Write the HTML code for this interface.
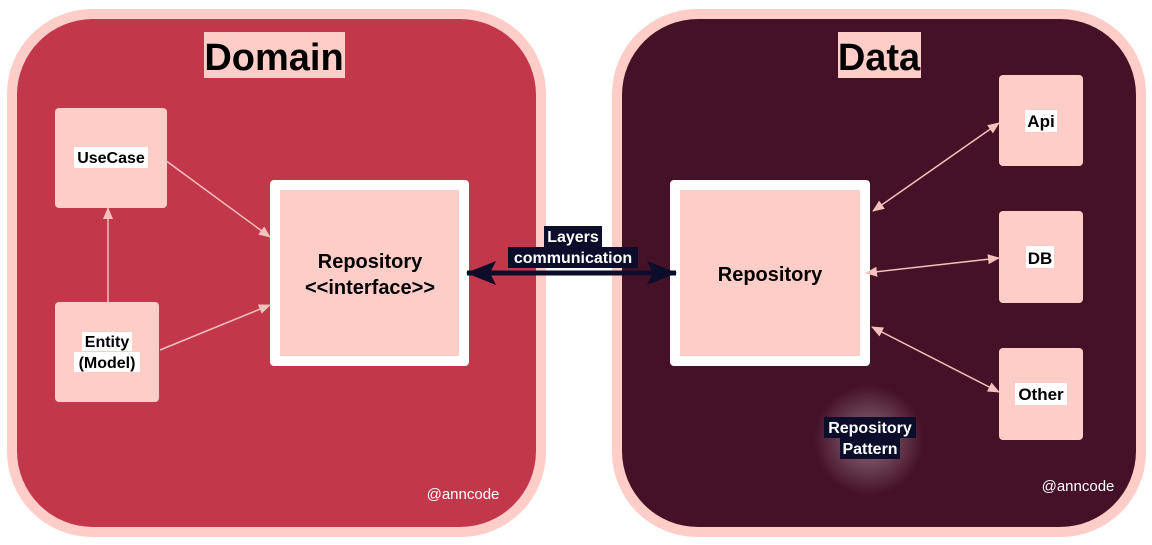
<!DOCTYPE html>
<html><head><meta charset="utf-8"><style>
html,body{margin:0;padding:0;background:#fff;width:1152px;height:545px;overflow:hidden}
text{font-family:"Liberation Sans",Arial,sans-serif;font-weight:bold}
</style></head><body>
<svg width="1152" height="545" viewBox="0 0 1152 545" xmlns="http://www.w3.org/2000/svg">
<defs>
<marker id="a" markerWidth="12" markerHeight="10" refX="11" refY="5" orient="auto-start-reverse" markerUnits="userSpaceOnUse"><path d="M0,0 L12,5 L0,10 Z" fill="#f5c1bc"/></marker>
<marker id="b" markerWidth="30" markerHeight="24" refX="29" refY="12" orient="auto-start-reverse" markerUnits="userSpaceOnUse"><path d="M0,0 L30,12 L0,24 L6,12 Z" fill="#0b0d2a"/></marker>
<radialGradient id="g"><stop offset="0" stop-color="#fff" stop-opacity="0.4"/><stop offset="1" stop-color="#fff" stop-opacity="0"/></radialGradient>
</defs>
<rect x="7" y="9" width="539" height="528" rx="85" fill="#ffcdc8"/>
<rect x="17" y="19" width="519" height="508" rx="76" fill="#c2384a"/>
<rect x="612" y="9" width="534" height="528" rx="85" fill="#ffcdc8"/>
<rect x="622" y="19" width="514" height="508" rx="76" fill="#451127"/>
<circle cx="869" cy="440" r="55" fill="url(#g)"/>
<rect x="204" y="32" width="141" height="46" fill="#ffcdc8"/>
<text x="274" y="70" font-size="38" text-anchor="middle">Domain</text>
<rect x="838" y="32" width="83" height="46" fill="#ffcdc8"/>
<text x="879" y="70" font-size="38" text-anchor="middle">Data</text>
<rect x="55" y="108" width="112" height="100" rx="4" fill="#ffcdc8"/>
<rect x="74" y="147" width="74" height="21" fill="#fff"/>
<text x="111" y="163" font-size="16" text-anchor="middle">UseCase</text>
<rect x="55" y="302" width="104" height="100" rx="4" fill="#ffcdc8"/>
<rect x="82" y="332" width="50" height="19" fill="#fff"/><rect x="74" y="352" width="66" height="20" fill="#fff"/>
<text x="107" y="347" font-size="16" text-anchor="middle">Entity</text>
<text x="107" y="368" font-size="16" text-anchor="middle">(Model)</text>
<rect x="270" y="180" width="199" height="186" rx="4" fill="#fff"/>
<rect x="280" y="190" width="179" height="166" fill="#ffcdc8"/>
<text x="370" y="268" font-size="20" text-anchor="middle">Repository</text>
<text x="370" y="294" font-size="20" text-anchor="middle">&lt;&lt;interface&gt;&gt;</text>
<line x1="165" y1="160" x2="270" y2="237" stroke="#f5c1bc" stroke-width="1.5" marker-end="url(#a)"/>
<line x1="160" y1="350" x2="270" y2="305" stroke="#f5c1bc" stroke-width="1.5" marker-end="url(#a)"/>
<line x1="108" y1="302" x2="108" y2="208" stroke="#f5c1bc" stroke-width="1.5" marker-end="url(#a)"/>
<rect x="670" y="180" width="200" height="186" rx="4" fill="#fff"/>
<rect x="680" y="190" width="180" height="166" fill="#ffcdc8"/>
<text x="770" y="281" font-size="20" text-anchor="middle">Repository</text>
<rect x="999" y="75" width="84" height="91" rx="4" fill="#ffcdc8"/>
<rect x="1025" y="110" width="32" height="22" fill="#fff"/>
<text x="1041" y="127" font-size="17" text-anchor="middle">Api</text>
<rect x="999" y="211" width="84" height="92" rx="4" fill="#ffcdc8"/>
<rect x="1026" y="246" width="28" height="22" fill="#fff"/>
<text x="1040" y="264" font-size="17" text-anchor="middle">DB</text>
<rect x="999" y="348" width="84" height="92" rx="4" fill="#ffcdc8"/>
<rect x="1015" y="383" width="52" height="22" fill="#fff"/>
<text x="1041" y="400" font-size="17" text-anchor="middle">Other</text>
<line x1="873" y1="211" x2="999" y2="123" stroke="#f5c1bc" stroke-width="1.5" marker-start="url(#a)" marker-end="url(#a)"/>
<line x1="866" y1="273" x2="999" y2="258" stroke="#f5c1bc" stroke-width="1.5" marker-start="url(#a)" marker-end="url(#a)"/>
<line x1="872" y1="327" x2="999" y2="392" stroke="#f5c1bc" stroke-width="1.5" marker-start="url(#a)" marker-end="url(#a)"/>
<line x1="467" y1="273" x2="676" y2="273" stroke="#0b0d2a" stroke-width="5" marker-start="url(#b)" marker-end="url(#b)"/>
<rect x="544" y="226" width="58" height="21" fill="#0b0d2a"/>
<rect x="508" y="247" width="130" height="21" fill="#0b0d2a"/>
<text x="573" y="242" font-size="16" fill="#fff" text-anchor="middle">Layers</text>
<text x="573" y="263" font-size="16" fill="#fff" text-anchor="middle">communication</text>
<rect x="824" y="417" width="92" height="21" fill="#0b0d2a"/>
<rect x="840" y="438" width="60" height="21" fill="#0b0d2a"/>
<text x="870" y="433" font-size="16" fill="#fff" text-anchor="middle">Repository</text>
<text x="870" y="454" font-size="16" fill="#fff" text-anchor="middle">Pattern</text>
<text x="463" y="499" font-size="15" style="font-weight:normal" fill="#fff" text-anchor="middle">@anncode</text>
<text x="1078" y="491" font-size="15" style="font-weight:normal" fill="#fff" text-anchor="middle">@anncode</text>
</svg>
</body></html>
